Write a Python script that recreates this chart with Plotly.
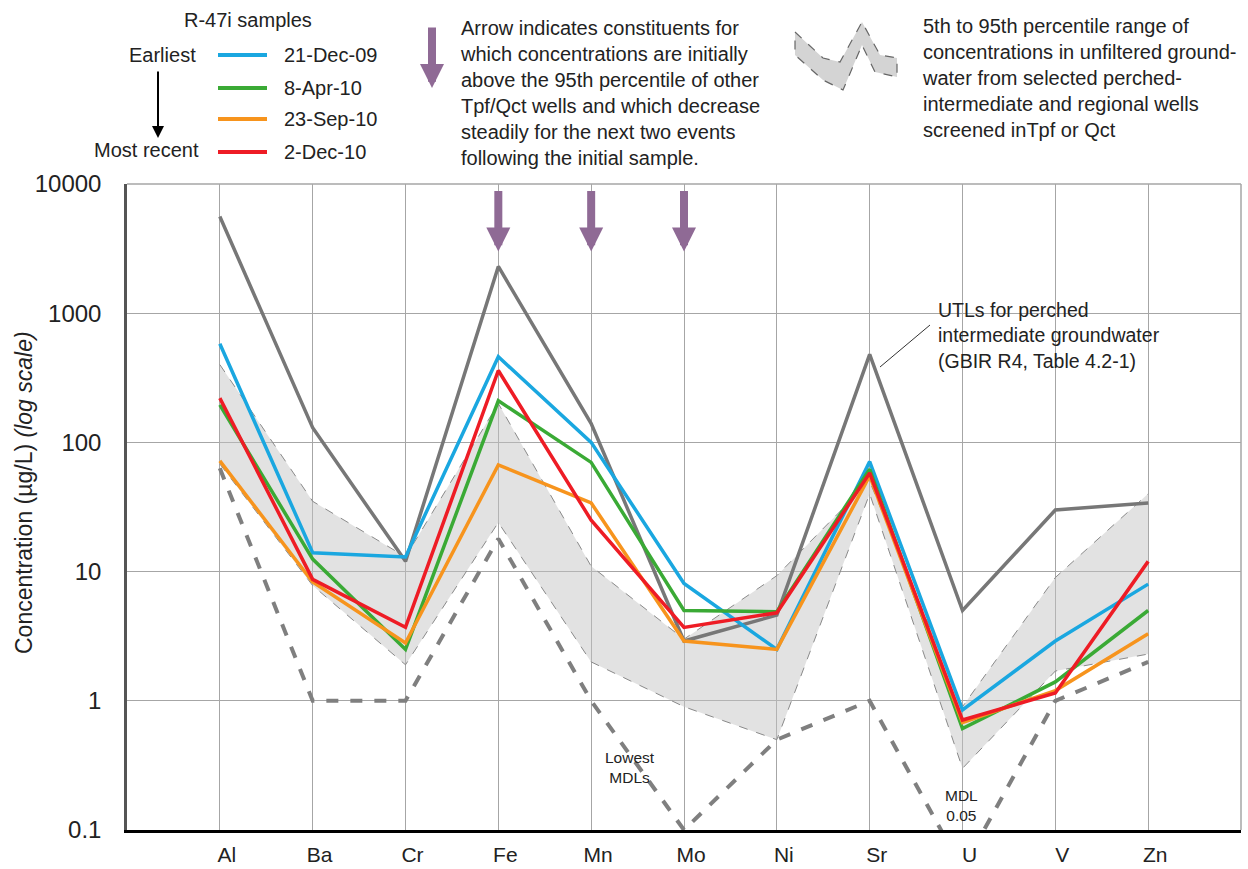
import math
import plotly.graph_objects as go

# ---------------- data ----------------
elements = ["Al", "Ba", "Cr", "Fe", "Mn", "Mo", "Ni", "Sr", "U", "V", "Zn"]
dec09 = [580, 14, 13, 460, 100, 8.1, 2.5, 71, 0.85, 2.9, 8]
apr10 = [195, 12.5, 2.5, 210, 70, 5.0, 4.9, 62, 0.61, 1.4, 5.0]
sep10 = [72, 8.3, 2.8, 67, 34, 2.9, 2.5, 55, 0.68, 1.2, 3.3]
dec10 = [220, 8.7, 3.7, 360, 25, 3.7, 4.8, 58, 0.71, 1.15, 12]
utl = [5600, 130, 12, 2300, 140, 2.9, 4.6, 480, 5.0, 30, 34]
mdl = [63, 1, 1, 18, 1, 0.1, 0.5, 1, 0.05, 1, 2.0]
p95 = [400, 35, 13, 200, 11, 3.0, 9.3, 50, 0.9, 9, 40]
p05 = [68, 7.8, 1.9, 24, 2, 0.9, 0.5, 40, 0.3, 1.7, 2.3]
arrow_elements = ["Fe", "Mn", "Mo"]
sample_names = ["21-Dec-09", "8-Apr-10", "23-Sep-10", "2-Dec-10"]
ytick_vals = [0.1, 1, 10, 100, 1000, 10000]
ytick_text = ["0.1", "1", "10", "100", "1000", "10000"]

# ---------------- style ----------------
W, H = 1248, 869
L, R, T, B = 127, 1241, 184, 830
colors = ["#1aa7e0", "#3aaa35", "#f7941d", "#ee1c25"]
FONT = "Arial, Liberation Sans, sans-serif"
TXT = "#222222"


def px(x):
    return (x - L) / (R - L)


def py(y):
    return (B - y) / (B - T)


fig = go.Figure()

# percentile band
fig.add_trace(go.Scatter(x=elements, y=p05, mode="lines",
                         line=dict(color="#8a8a8a", width=1, dash="dash"),
                         hoverinfo="skip", showlegend=False))
fig.add_trace(go.Scatter(x=elements, y=p95, mode="lines", fill="tonexty",
                         fillcolor="rgba(195,195,195,0.48)",
                         line=dict(color="#8a8a8a", width=1, dash="dash"),
                         hoverinfo="skip", showlegend=False))
# MDL
fig.add_trace(go.Scatter(x=elements, y=mdl, mode="lines",
                         line=dict(color="#7f7f7f", width=4, dash="dash"),
                         showlegend=False))
# UTL
fig.add_trace(go.Scatter(x=elements, y=utl, mode="lines",
                         line=dict(color="#777777", width=3.5),
                         showlegend=False))
for name, vals, c in zip(sample_names, [dec09, apr10, sep10, dec10], colors):
    fig.add_trace(go.Scatter(x=elements, y=vals, mode="lines", name=name,
                             line=dict(color=c, width=3.5), showlegend=False))

shapes = []
# plot border (top and right)
shapes.append(dict(type="line", xref="paper", yref="paper", x0=0, x1=1, y0=1, y1=1,
                   line=dict(color="#a6a6a6", width=1.5)))
shapes.append(dict(type="line", xref="paper", yref="paper", x0=1, x1=1, y0=0, y1=1,
                   line=dict(color="#a6a6a6", width=1.5)))
# legend lines
leg_y = [55, 88, 119, 152]
for c, yy in zip(colors, leg_y):
    shapes.append(dict(type="line", xref="paper", yref="paper",
                       x0=px(218), x1=px(267), y0=py(yy), y1=py(yy),
                       line=dict(color=c, width=4)))
# band legend icon
icon = [(795, 32), (823, 58), (840, 62), (862, 22), (880, 55), (897, 58),
        (897, 77), (875, 72), (862, 45), (843, 90), (823, 80), (795, 55)]
path = "M " + " L ".join(f"{px(x):.5f},{py(y):.5f}" for x, y in icon) + " Z"
shapes.append(dict(type="path", xref="paper", yref="paper", path=path,
                   fillcolor="rgba(205,205,205,0.85)",
                   line=dict(color="#666666", width=1.2, dash="dash")))
# UTL leader line
shapes.append(dict(type="line", xref="paper", yref="paper",
                   x0=px(880), y0=py(367), x1=px(930), y1=py(325),
                   line=dict(color="#333333", width=1)))


def note(x, y, text, size, xanchor="center", align="center", **kw):
    d = dict(xref="paper", yref="paper", x=px(x), y=py(y), showarrow=False,
             xanchor=xanchor, yanchor="middle", align=align, text=text,
             font=dict(family=FONT, size=size, color=TXT))
    d.update(kw)
    return d


ann = []
# y title
ann.append(note(24, 493, "Concentration (µg/L) <i>(log scale)</i>", 23, textangle=-90))
# legend texts
ann.append(note(248, 20, "R-47i samples", 20))
for nm, yy in zip(sample_names, leg_y):
    ann.append(note(282, yy, nm, 20, xanchor="left"))
ann.append(note(198, 55, "Earliest", 20, xanchor="right"))
ann.append(note(201, 150, "Most recent", 20, xanchor="right"))
ann.append(dict(xref="paper", yref="paper", x=px(158), y=py(138), ax=0, ay=-68,
                showarrow=True, arrowhead=2, arrowsize=1.2, arrowwidth=2,
                arrowcolor="#000000", text=""))
# arrow legend
ann.append(dict(xref="paper", yref="paper", x=px(432), y=py(88), ax=0, ay=-62,
                showarrow=True, arrowhead=2, arrowsize=0.6, arrowwidth=8,
                arrowcolor="#8f6a95", text=""))
ann.append(note(458, 93,
                ("Arrow indicates constituents for<br>which concentrations are initially<br>"
                 "above the 95th percentile of other<br>Tpf/Qct wells and which decrease<br>"
                 "steadily for the next two events<br>following the initial sample."),
                20, xanchor="left", align="left"))
ann.append(note(920, 78,
                ("5th to 95th percentile range of<br>concentrations in unfiltered ground-<br>"
                 "water from selected perched-<br>intermediate and regional wells<br>"
                 "screened inTpf or Qct"),
                20, xanchor="left", align="left"))
# in-plot arrows
for el in arrow_elements:
    ann.append(dict(x=el, y=math.log10(3000), xref="x", yref="y", ax=0, ay=-62,
                    showarrow=True, arrowhead=2, arrowsize=0.6, arrowwidth=8,
                    arrowcolor="#8f6a95", text=""))
# UTL note
ann.append(note(936, 335, "UTLs for perched<br>intermediate groundwater<br>(GBIR R4, Table 4.2-1)",
                19.5, xanchor="left", align="left"))
ann.append(note(630, 767, "Lowest<br>MDLs", 15.5))
ann.append(note(962, 805, "MDL<br>0.05", 15.5))

fig.update_layout(
    width=W, height=H,
    margin=dict(l=L, r=W - R, t=T, b=H - B, pad=0, autoexpand=False),
    paper_bgcolor="white", plot_bgcolor="white",
    shapes=shapes, annotations=ann, showlegend=False,
    font=dict(family=FONT, color=TXT),
    xaxis=dict(type="category", categoryorder="array", categoryarray=elements,
               range=[-1, 11], showgrid=True, gridcolor="#a6a6a6", gridwidth=1.2,
               showline=True, linecolor="#000000", linewidth=3, automargin=False,
               ticks="", ticklabelstandoff=4, ticklabelshift=7,
               tickfont=dict(family=FONT, size=21, color=TXT), fixedrange=True),
    yaxis=dict(type="log", range=[-1, 4], tickvals=ytick_vals, ticktext=ytick_text,
               showgrid=True, gridcolor="#a6a6a6", gridwidth=1.2, automargin=False,
               showline=True, linecolor="#555555", linewidth=2.5,
               ticks="", ticklabelstandoff=18, zeroline=False,
               tickfont=dict(family=FONT, size=24, color=TXT), fixedrange=True),
)

fig.write_html("out.html")
